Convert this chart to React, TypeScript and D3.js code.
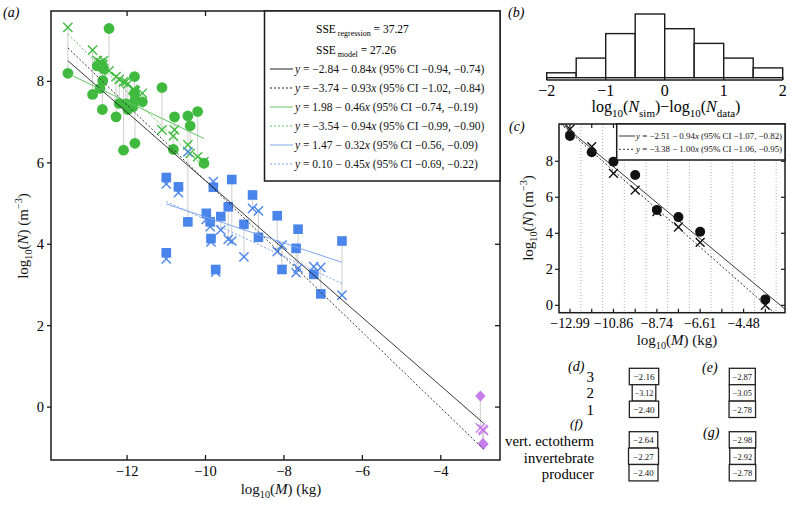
import React from 'react';
import * as d3 from 'd3';

// ---------- DATA ----------
// panel (a): green group
const greenX = [-13.51, -12.88, -12.76, -12.67, -12.6, -12.62, -12.69, -12.63, -12.46, -12.28, -12.2, -12.09, -11.98, -12.03, -11.81, -11.81, -11.8, -11.85, -11.8, -11.61, -11.11, -10.79, -10.82, -10.45, -10.39, -10.2, -10.04];
const greenObs = [8.2, 7.68, 8.38, 8.4, 8.31, 8.02, 7.83, 7.31, 9.3, 7.13, 7.46, 6.31, 7.31, 7.45, 8.12, 7.71, 7.54, 7.38, 6.48, 7.5, 7.85, 7.13, 6.33, 7.15, 6.91, 7.26, 5.99];
const greenSim = [9.33, 8.77, 8.51, 8.46, 8.51, 8.4, 8.45, 8.42, 8.26, 8.12, 8.05, 7.99, 7.94, 7.99, 7.78, 7.78, 7.75, 7.8, 7.76, 7.71, 6.81, 6.81, 6.66, 6.44, 6.23, 6.15, 6.03];
// panel (a): blue group
const blueX = [-11.0, -10.69, -10.45, -11.0, -9.98, -9.88, -9.86, -9.8, -9.33, -9.61, -9.42, -9.74, -9.02, -8.8, -8.65, -8.17, -7.64, -7.69, -8.05, -7.24, -7.06, -6.52];
const blueObs = [5.64, 5.41, 4.55, 3.79, 4.76, 4.55, 4.14, 5.4, 5.59, 4.68, 4.92, 3.38, 4.49, 5.21, 4.17, 4.7, 4.37, 3.9, 3.38, 3.26, 2.78, 4.08];
const blueSim = [5.48, 5.27, 6.27, 3.64, 4.61, 4.43, 4.06, 5.54, 4.08, 4.35, 4.12, 3.32, 3.69, 4.88, 4.82, 3.82, 3.41, 3.3, 3.98, 3.45, 3.43, 2.75];
// panel (a): purple group
const purpleX = [-2.99, -2.91, -2.93];
const purpleObs = [0.27, -0.91, -0.9];
const purpleSim = [-0.51, -0.58, -0.55];

// regression / model lines of panel (a)
const lineIntercepts = [-2.84, -3.74, 1.98, -3.54, 1.47, 0.1];
const lineSlopes = [-0.84, -0.93, -0.46, -0.94, -0.32, -0.45];
const lineCILow = [-0.94, -1.02, -0.74, -0.99, -0.56, -0.69];
const lineCIHigh = [-0.74, -0.84, -0.19, -0.9, -0.09, -0.22];
const lineGroups = ['all', 'all', 'green', 'green', 'blue', 'blue'];
const sseRegression = 37.27;
const sseModel = 27.26;

const aXTicks = [-12, -10, -8, -6, -4];
const aYTicks = [0, 2, 4, 6, 8];

// panel (b): histogram
const binEdges = [-2, -1.5, -1, -0.5, 0, 0.5, 1, 1.5, 2];
const binCounts = [1, 4, 9, 13, 10, 7, 4, 2];
const bTicks = [-2, -1, 0, 1, 2];

// panel (c)
const cTicks = [-12.99, -11.925, -10.86, -9.795, -8.73, -7.675, -6.61, -5.545, -4.48, -3.415];
const cTickLabels = ['−12.99', '', '−10.86', '', '−8.74', '', '−6.61', '', '−4.48', ''];
const cX = [-12.99, -11.925, -10.86, -9.795, -8.73, -7.675, -6.61, -3.415];
const cObs = [9.41, 8.5, 7.98, 7.24, 5.29, 4.9, 4.09, 0.33];
const cSim = [9.78, 8.81, 7.33, 6.4, 5.2, 4.35, 3.5, 0.0];
const cYTicks = [0, 2, 4, 6, 8];
const cIntercepts = [-2.51, -3.38];
const cSlopes = [-0.94, -1.0];
const cCILow = [-1.07, -1.06];
const cCIHigh = [-0.82, -0.95];

// panels (d)-(g)
const dLabels = ['3', '2', '1'];
const dVals = [-2.16, -3.12, -2.4];
const eVals = [-2.87, -3.05, -2.78];
const fLabels = ['vert. ectotherm', 'invertebrate', 'producer'];
const fVals = [-2.64, -2.27, -2.4];
const gVals = [-2.98, -2.92, -2.78];

// ---------- STYLE ----------
const FONT = "'Liberation Serif','Times New Roman',Times,serif";
const GREEN = '#3fba3f';
const GREEN_LINE = '#62c562';
const BLUE = '#4a85ec';
const BLUE_LINE = '#7ea6ef';
const PURPLE = '#c67ee9';
const CONNECT = '#d2d2d2';
const DARK = '#1a1a1a';

const fmt = (v: number) => (v < 0 ? '−' : '') + Math.abs(v).toFixed(2);

function Eq({ x, y, a, b, lo, hi, size }: any) {
  return (
    <text x={x} y={y} fontSize={size} fontFamily={FONT} fill="#111">
      <tspan fontStyle="italic">y</tspan>
      {` = ${fmt(a)} − ${Math.abs(b).toFixed(2)}`}
      <tspan fontStyle="italic">x</tspan>
      {` (95% CI ${fmt(lo)}, ${fmt(hi)})`}
    </text>
  );
}

function Cross({ cx, cy, s, color, w }: any) {
  return (
    <g stroke={color} strokeWidth={w}>
      <line x1={cx - s} y1={cy - s} x2={cx + s} y2={cy + s} />
      <line x1={cx - s} y1={cy + s} x2={cx + s} y2={cy - s} />
    </g>
  );
}

function LogLabel({ x, y, rotate, size, v }: any) {
  const sub = size * 0.68;
  return (
    <text
      x={x}
      y={y}
      transform={rotate ? `rotate(-90 ${x} ${y})` : undefined}
      textAnchor="middle"
      fontFamily={FONT}
      fontSize={size}
      fill="#111"
    >
      log<tspan fontSize={sub} dy={size * 0.28}>10</tspan>
      <tspan dy={-size * 0.28}>(</tspan>
      <tspan fontStyle="italic">{v === 'N' ? 'N' : 'M'}</tspan>
      {v === 'N' ? (
        <>
          <tspan>) (m</tspan>
          <tspan fontSize={sub} dy={-size * 0.38}>−3</tspan>
          <tspan dy={size * 0.38}>)</tspan>
        </>
      ) : (
        <tspan>) (kg)</tspan>
      )}
    </text>
  );
}

export default function App() {
  // ----- panel (a) scales -----
  const aL = 51, aR = 500, aT = 11, aB = 460;
  const xA = d3.scaleLinear().domain([-13.94, -2.49]).range([aL, aR]);
  const yA = d3.scaleLinear().domain([-1.3, 9.73]).range([aB, aT]);

  const groups = [
    { xs: greenX, obs: greenObs, sim: greenSim, color: GREEN, shape: 'circle' },
    { xs: blueX, obs: blueObs, sim: blueSim, color: BLUE, shape: 'square' },
    { xs: purpleX, obs: purpleObs, sim: purpleSim, color: PURPLE, shape: 'diamond' },
  ];
  const allX = [...greenX, ...blueX, ...purpleX];
  const rangeFor = (g: string) => {
    const arr = g === 'all' ? allX : g === 'green' ? greenX : blueX;
    return d3.extent(arr) as [number, number];
  };
  const lineColor = (g: string) => (g === 'all' ? '#222' : g === 'green' ? GREEN_LINE : BLUE_LINE);
  const line = d3.line<number>().x((d) => xA(d[0] as any)).y((d) => yA(d[1] as any));

  // ----- panel (b) scales -----
  const xB = d3.scaleLinear().domain([-2, 2]).range([546.7, 782.7]);
  const yB = d3.scaleLinear().domain([0, 13]).range([77.7, 14]);

  // ----- panel (c) scales -----
  const cL = 559, cR = 785, cT = 124, cB = 312.7;
  const xC = d3.scaleLinear().domain([-13.53, -2.45]).range([cL, cR]);
  const yC = d3.scaleLinear().domain([-0.41, 10.07]).range([cB, cT]);
  const halfBin = (cTicks[1] - cTicks[0]) / 2;
  const cEdges = [...cTicks.map((t) => t - halfBin), cTicks[cTicks.length - 1] + halfBin];

  const boxH = 16.4;
  const Boxes = ({ vals, cx, top, w, fs }: any) => (
    <g>
      {vals.map((v: number, i: number) => (
        <g key={i}>
          <rect x={cx - w[i] / 2} y={top + i * boxH} width={w[i]} height={boxH} fill="white" stroke="#222" strokeWidth={1.3} />
          <text x={cx} y={top + i * boxH + boxH / 2 + 3.2} textAnchor="middle" fontFamily={FONT} fontSize={fs[i]} fill="#111">
            {fmt(v)}
          </text>
        </g>
      ))}
    </g>
  );

  return (
    <svg width={792} height={506} style={{ display: 'block', position: 'absolute', left: 0, top: 0 }} fontFamily={FONT}>
      <rect width={792} height={506} fill="white" />
      <defs>
        <clipPath id="clipA">
          <rect x={aL} y={aT} width={aR - aL} height={aB - aT} />
        </clipPath>
        <clipPath id="clipC">
          <rect x={cL} y={cT} width={cR - cL} height={cB - cT} />
        </clipPath>
      </defs>

      {/* ================= PANEL A ================= */}
      <text x={3} y={17} fontSize={14} fontStyle="italic" fontFamily={FONT}>(a)</text>
      <g clipPath="url(#clipA)">
        {groups.map((g, gi) =>
          g.xs.map((x, i) => (
            <line key={`c${gi}-${i}`} x1={xA(x)} x2={xA(x)} y1={yA(g.obs[i])} y2={yA(g.sim[i])} stroke={CONNECT} strokeWidth={1.1} />
          ))
        )}
        {groups.map((g, gi) =>
          g.xs.map((x, i) => {
            const px = xA(x), py = yA(g.obs[i]);
            if (g.shape === 'circle') return <circle key={`o${gi}-${i}`} cx={px} cy={py} r={5.4} fill={g.color} />;
            if (g.shape === 'square') return <rect key={`o${gi}-${i}`} x={px - 4.8} y={py - 4.8} width={9.6} height={9.6} fill={g.color} />;
            return <path key={`o${gi}-${i}`} d={`M${px},${py - 5.6}L${px + 5.2},${py}L${px},${py + 5.6}L${px - 5.2},${py}Z`} fill={g.color} />;
          })
        )}
        {groups.map((g, gi) =>
          g.xs.map((x, i) => <Cross key={`s${gi}-${i}`} cx={xA(x)} cy={yA(g.sim[i])} s={4.6} color={g.color} w={1.4} />)
        )}
        {lineIntercepts.map((a, i) => {
          const [x0, x1] = rangeFor(lineGroups[i]);
          const pts: any = [x0, x1].map((x) => [x, a + lineSlopes[i] * x]);
          return (
            <path
              key={`l${i}`}
              d={line(pts) as string}
              fill="none"
              stroke={lineColor(lineGroups[i])}
              strokeWidth={i < 2 ? 0.9 : 1}
              strokeDasharray={i % 2 === 1 ? '2,2' : undefined}
            />
          );
        })}
      </g>
      {/* axes frame */}
      <rect x={aL} y={aT} width={aR - aL} height={aB - aT} fill="none" stroke={DARK} strokeWidth={1.5} />
      {aXTicks.map((t) => (
        <g key={`ax${t}`}>
          <line x1={xA(t)} x2={xA(t)} y1={aB} y2={aB - 5} stroke={DARK} strokeWidth={1.3} />
          <line x1={xA(t)} x2={xA(t)} y1={aT} y2={aT + 5} stroke={DARK} strokeWidth={1.3} />
          <text x={xA(t)} y={aB + 16} textAnchor="middle" fontSize={14.5} fontFamily={FONT}>{t < 0 ? '−' + Math.abs(t) : t}</text>
        </g>
      ))}
      {aYTicks.map((t) => (
        <g key={`ay${t}`}>
          <line x1={aL - 4} x2={aL} y1={yA(t)} y2={yA(t)} stroke={DARK} strokeWidth={1.3} />
          <line x1={aR} x2={aR - 5} y1={yA(t)} y2={yA(t)} stroke={DARK} strokeWidth={1.3} />
          <text x={aL - 7} y={yA(t) + 5} textAnchor="end" fontSize={14.5} fontFamily={FONT}>{t}</text>
        </g>
      ))}
      <LogLabel x={281} y={494} size={15} v="M" />
      <LogLabel x={28} y={236} size={15} v="N" rotate />

      {/* legend A */}
      <rect x={264.5} y={aT} width={aR - 264.5} height={181 - aT} fill="white" stroke={DARK} strokeWidth={1.5} />
      <text x={316} y={33} fontSize={11.5} fontFamily={FONT}>
        SSE<tspan fontSize={8} dy={3}> regression</tspan>
        <tspan dy={-3}> = {sseRegression.toFixed(2)}</tspan>
      </text>
      <text x={316} y={54} fontSize={11.5} fontFamily={FONT}>
        SSE<tspan fontSize={8} dy={3}> model</tspan>
        <tspan dy={-3}> = {sseModel.toFixed(2)}</tspan>
      </text>
      {lineIntercepts.map((a, i) => {
        const cy = 69 + i * 19;
        return (
          <g key={`lg${i}`}>
            <line x1={270} x2={293} y1={cy} y2={cy} stroke={lineColor(lineGroups[i])} strokeWidth={1} strokeDasharray={i % 2 === 1 ? '2,2' : undefined} />
            <Eq x={295} y={cy + 4} a={a} b={lineSlopes[i]} lo={lineCILow[i]} hi={lineCIHigh[i]} size={11.5} />
          </g>
        );
      })}

      {/* ================= PANEL B ================= */}
      <text x={508} y={17} fontSize={14} fontStyle="italic" fontFamily={FONT}>(b)</text>
      {binCounts.map((c, i) => (
        <rect
          key={`b${i}`}
          x={xB(binEdges[i])}
          y={yB(c)}
          width={xB(binEdges[i + 1]) - xB(binEdges[i])}
          height={yB(0) - yB(c)}
          fill="white"
          stroke={DARK}
          strokeWidth={1.4}
        />
      ))}
      <line x1={xB(-2)} x2={xB(2)} y1={80} y2={80} stroke={DARK} strokeWidth={1.6} />
      <line x1={xB(-2)} x2={xB(-2)} y1={yB(0)} y2={80} stroke={DARK} strokeWidth={1.4} />
      <line x1={xB(2)} x2={xB(2)} y1={yB(0)} y2={80} stroke={DARK} strokeWidth={1.4} />
      {bTicks.map((t) => (
        <g key={`bt${t}`}>
          <line x1={xB(t)} x2={xB(t)} y1={80} y2={77} stroke={DARK} strokeWidth={1.3} />
          <text x={xB(t)} y={96} textAnchor="middle" fontSize={16} fontFamily={FONT}>{t < 0 ? '−' + Math.abs(t) : t}</text>
        </g>
      ))}
      <text x={666} y={112} textAnchor="middle" fontSize={16} fontFamily={FONT}>
        log<tspan fontSize={11} dy={4.5}>10</tspan>
        <tspan dy={-4.5}>(</tspan>
        <tspan fontStyle="italic">N</tspan>
        <tspan fontSize={11} dy={4.5}>sim</tspan>
        <tspan dy={-4.5}>)−log</tspan>
        <tspan fontSize={11} dy={4.5}>10</tspan>
        <tspan dy={-4.5}>(</tspan>
        <tspan fontStyle="italic">N</tspan>
        <tspan fontSize={11} dy={4.5}>data</tspan>
        <tspan dy={-4.5}>)</tspan>
      </text>

      {/* ================= PANEL C ================= */}
      <text x={509} y={131} fontSize={14} fontStyle="italic" fontFamily={FONT}>(c)</text>
      <g clipPath="url(#clipC)">
        {cEdges.map((e, i) => (
          <line key={`ge${i}`} x1={xC(e)} x2={xC(e)} y1={cT} y2={cB} stroke="#9a9a9a" strokeWidth={0.8} strokeDasharray="1,2" />
        ))}
        {cX.map((x, i) => (
          <circle key={`co${i}`} cx={xC(x)} cy={yC(cObs[i])} r={5} fill="#111" />
        ))}
        {cX.map((x, i) => (
          <Cross key={`cs${i}`} cx={xC(x)} cy={yC(cSim[i])} s={4.4} color="#111" w={1.4} />
        ))}
        {cIntercepts.map((a, i) => {
          const pts = [-13.6, -2.4].map((x) => [x, a + cSlopes[i] * x]);
          return (
            <line
              key={`cl${i}`}
              x1={xC(pts[0][0])}
              y1={yC(pts[0][1])}
              x2={xC(pts[1][0])}
              y2={yC(pts[1][1])}
              stroke="#222"
              strokeWidth={0.9}
              strokeDasharray={i === 1 ? '2,2' : undefined}
            />
          );
        })}
      </g>
      <rect x={cL} y={cT} width={cR - cL} height={cB - cT} fill="none" stroke={DARK} strokeWidth={1.5} />
      {cTicks.map((t, i) => (
        <g key={`cx${i}`}>
          <line x1={xC(t)} x2={xC(t)} y1={cB} y2={cB - 4} stroke={DARK} strokeWidth={1.2} />
          <line x1={xC(t)} x2={xC(t)} y1={cT} y2={cT + 4} stroke={DARK} strokeWidth={1.2} />
          {cTickLabels[i] && (
            <text x={xC(t)} y={cB + 15} textAnchor="middle" fontSize={14} fontFamily={FONT}>{cTickLabels[i]}</text>
          )}
        </g>
      ))}
      {cYTicks.map((t) => (
        <g key={`cy${t}`}>
          <line x1={cL - 4} x2={cL} y1={yC(t)} y2={yC(t)} stroke={DARK} strokeWidth={1.2} />
          <line x1={cR} x2={cR - 4} y1={yC(t)} y2={yC(t)} stroke={DARK} strokeWidth={1.2} />
          <text x={cL - 6} y={yC(t) + 5} textAnchor="end" fontSize={14.5} fontFamily={FONT}>{t}</text>
        </g>
      ))}
      <LogLabel x={677} y={345} size={15} v="M" />
      <LogLabel x={533} y={218} size={15} v="N" rotate />
      {/* legend C */}
      <rect x={616.7} y={cT} width={cR - 616.7} height={36} fill="white" stroke={DARK} strokeWidth={1.5} />
      {cIntercepts.map((a, i) => {
        const cy = 136 + i * 13.3;
        return (
          <g key={`clg${i}`}>
            <line x1={619} x2={635} y1={cy} y2={cy} stroke="#222" strokeWidth={0.9} strokeDasharray={i === 1 ? '2,2' : undefined} />
            <Eq x={636} y={cy + 3} a={a} b={cSlopes[i]} lo={cCILow[i]} hi={cCIHigh[i]} size={8.9} />
          </g>
        );
      })}

      {/* ================= PANELS D-G ================= */}
      <text x={568} y={371} fontSize={14} fontStyle="italic" fontFamily={FONT}>(d)</text>
      {dLabels.map((l, i) => (
        <text key={`dl${i}`} x={594} y={376.7 + i * 16.6 + 5} textAnchor="end" fontSize={15} fontFamily={FONT}>{l}</text>
      ))}
      <Boxes vals={dVals} cx={644} top={368.3} w={[29.4, 23.6, 29.3]} fs={[9.2, 8, 9.2]} />
      <text x={702} y={372} fontSize={14} fontStyle="italic" fontFamily={FONT}>(e)</text>
      <Boxes vals={eVals} cx={742.3} top={368.3} w={[26, 26, 26.5]} fs={[8.5, 8.3, 8.5]} />

      <text x={570} y={428} fontSize={13.5} fontStyle="italic" fontFamily={FONT}>(f)</text>
      {fLabels.map((l, i) => (
        <text key={`fl${i}`} x={594} y={441 + i * 16.7 + 5} textAnchor="end" fontSize={14.7} fontFamily={FONT}>{l}</text>
      ))}
      <Boxes vals={fVals} cx={643.5} top={431.7} w={[28.5, 30, 29]} fs={[8.8, 8.8, 8.8]} />
      <text x={703} y={437} fontSize={14} fontStyle="italic" fontFamily={FONT}>(g)</text>
      <Boxes vals={gVals} cx={742.5} top={431.7} w={[26.5, 25.5, 26.5]} fs={[8.5, 8.3, 8.5]} />
    </svg>
  );
}
